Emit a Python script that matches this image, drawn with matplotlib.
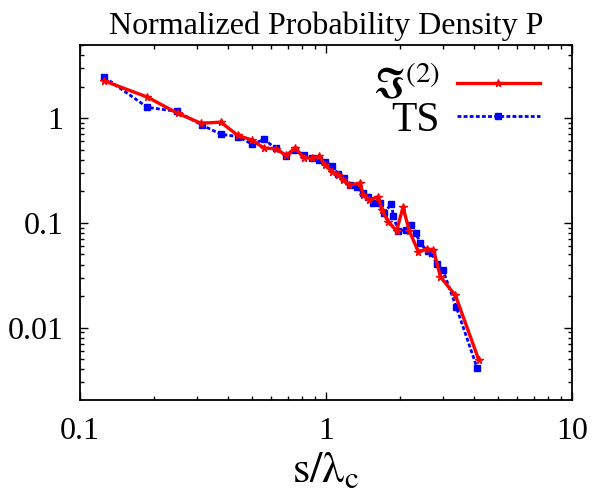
import matplotlib
matplotlib.use("Agg")
import matplotlib.pyplot as plt
from matplotlib.ticker import FixedLocator, LogLocator, NullFormatter, FuncFormatter

plt.rcParams["font.family"] = ["Liberation Serif", "DejaVu Serif"]
plt.rcParams["mathtext.fontset"] = "stix"

# red series: Im^(2)
x_im = [0.1256, 0.188, 0.250, 0.310, 0.374, 0.438, 0.498, 0.560, 0.624, 0.690,
        0.748, 0.811, 0.875, 0.938, 0.991, 1.055, 1.122, 1.176, 1.240, 1.375,
        1.418, 1.500, 1.632, 1.684, 1.792, 1.935, 2.056, 2.182, 2.373, 2.566,
        2.735, 2.92, 3.36, 4.18]
y_im = [2.27, 1.59, 1.11, 0.896, 0.916, 0.685, 0.621, 0.520, 0.511, 0.441,
        0.520, 0.420, 0.415, 0.434, 0.358, 0.309, 0.287, 0.258, 0.231, 0.239,
        0.185, 0.166, 0.178, 0.133, 0.103, 0.0839, 0.141, 0.084, 0.0532, 0.0561,
        0.0552, 0.0305, 0.0203, 0.00492]

# blue series: TS
x_ts = [0.1256, 0.188, 0.249, 0.312, 0.374, 0.439, 0.500, 0.561, 0.624, 0.689,
        0.748, 0.811, 0.875, 0.938, 0.991, 1.058, 1.122, 1.178, 1.252, 1.341,
        1.418, 1.486, 1.557, 1.658, 1.721, 1.846, 1.877, 1.967, 2.105, 2.206,
        2.322, 2.41, 2.586, 2.698, 2.818, 2.99, 3.38, 4.12]
y_ts = [2.46, 1.27, 1.16, 0.863, 0.703, 0.667, 0.566, 0.627, 0.515, 0.436,
        0.498, 0.446, 0.415, 0.400, 0.383, 0.350, 0.292, 0.266, 0.231, 0.219,
        0.192, 0.175, 0.154, 0.154, 0.125, 0.152, 0.117, 0.0839, 0.0858, 0.0957,
        0.0802, 0.064, 0.054, 0.0511, 0.0403, 0.0353, 0.0159, 0.00409]

x_ticks = [0.1, 1, 10]
y_ticks = [0.01, 0.1, 1]

fig = plt.figure(figsize=(6.08, 4.90), dpi=100)
ax = fig.add_axes([80 / 608, 90 / 490, 492 / 608, 355 / 490])

ax.plot(x_im, y_im, color="#ff0000", lw=2.4, marker="*", ms=5.5,
        label=r"$\Im^{(2)}$", zorder=3)
ax.plot(x_ts, y_ts, color="#0000ff", lw=2.0, ls=(0, (1.4, 0.8)), marker="s", ms=4.2,
        label="TS", zorder=2)

ax.set_xscale("log")
ax.set_yscale("log")
ax.set_xlim(0.1, 10)
ax.set_ylim(0.00204, 5.0)

fmt = FuncFormatter(lambda v, p: "%g" % v)
ax.xaxis.set_major_locator(FixedLocator(x_ticks))
ax.yaxis.set_major_locator(FixedLocator(y_ticks))
ax.xaxis.set_major_formatter(fmt)
ax.yaxis.set_major_formatter(fmt)
ax.xaxis.set_minor_locator(LogLocator(base=10, subs=range(2, 10)))
ax.yaxis.set_minor_locator(LogLocator(base=10, subs=range(2, 10)))
ax.xaxis.set_minor_formatter(NullFormatter())
ax.yaxis.set_minor_formatter(NullFormatter())
ax.tick_params(which="both", direction="in", top=True, right=True, width=1.0)
ax.tick_params(which="major", length=6, labelsize=23, pad=12)
ax.tick_params(which="minor", length=3)
for s in ax.spines.values():
    s.set_linewidth(1.3)

ax.set_title("Normalized Probability Density P", fontsize=23, pad=8)
ax.set_xlabel(r"$\mathrm{s/\lambda_c}$", fontsize=32, labelpad=4)

leg = ax.legend(loc="upper right", bbox_to_anchor=(0.935, 0.94), frameon=False,
                markerfirst=False, fontsize=30, handlelength=2.0,
                handletextpad=0.4, labelspacing=-0.12, borderaxespad=0,
                borderpad=0)
for t in leg.get_texts():
    t.set_ha("right")

fig.savefig("out.png", dpi=100)
